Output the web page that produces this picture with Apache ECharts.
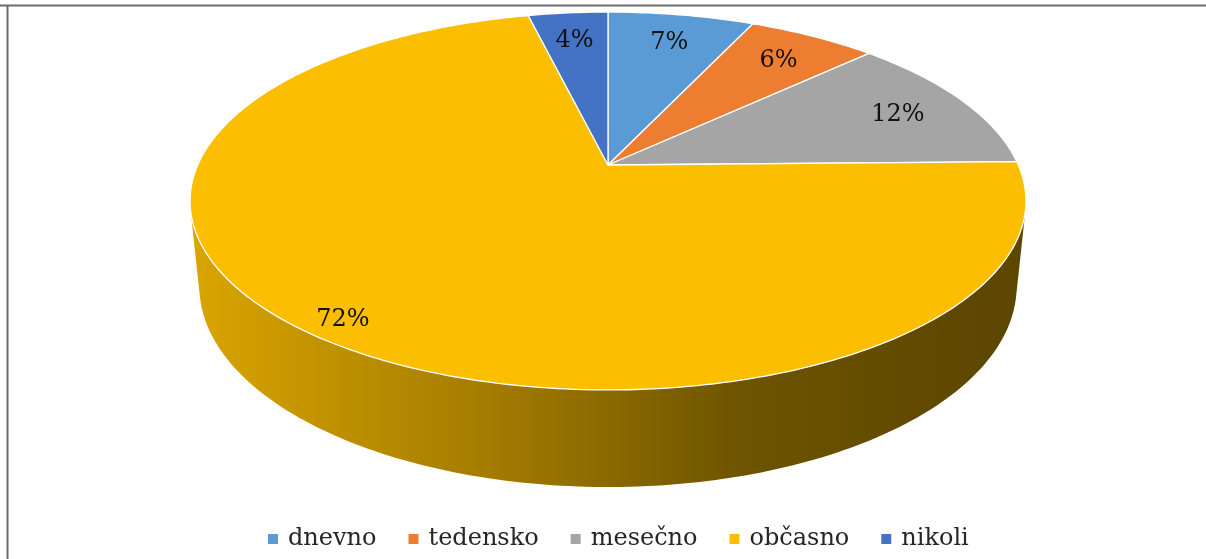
<!DOCTYPE html>
<html><head><meta charset="utf-8">
<script src="https://cdn.jsdelivr.net/npm/echarts@6/dist/echarts.min.js"></script>
<style>html,body{margin:0;padding:0;background:#fff}#c{width:1206px;height:559px}</style>
</head><body><div id="c"></div>
<script>
const categories = ['dnevno', 'tedensko', 'mesečno', 'občasno', 'nikoli'];
const values = [6.8, 6.0, 11.9, 71.6, 3.7];
const colors = ['#5B9BD5', '#ED7D31', '#A5A5A5', '#FBBE00', '#4472C4'];

const total = values.reduce((a, b) => a + b, 0);
const cum = []; let acc = 0; values.forEach(v => { cum.push(acc); acc += v; });

// perspective projection of a tilted disc
const CX = 608, CY = 165, SINA = 0.4438, COSA = 0.8961, D = 4.704, F = 1930, H = 0.233;
function proj(th, r, Y) {
  const X = r * Math.sin(th), Z = r * Math.cos(th);
  const depth = D + Z * COSA - Y * SINA;
  const vert = Z * SINA + Y * COSA;
  return [CX + F * X / depth, CY - F * vert / depth];
}
const PHI = Math.acos(1 / (D * COSA));
const VIS0 = Math.PI - PHI, VIS1 = Math.PI + PHI;

function hexToRgb(h) { const n = parseInt(h.slice(1), 16); return [(n >> 16) & 255, (n >> 8) & 255, n & 255]; }
function shade(h, f) { const c = hexToRgb(h); return 'rgb(' + c.map(x => Math.round(x * f)).join(',') + ')'; }

function arc(a0, a1, r, Y) {
  const n = Math.max(2, Math.ceil((a1 - a0) / (Math.PI / 180)) + 1);
  const pts = [];
  for (let i = 0; i < n; i++) pts.push(proj(a0 + (a1 - a0) * i / (n - 1), r, Y));
  return pts;
}

function makeRender(idx) {
  return function (params, api) {
    const v = api.value(0);
    const a0 = cum[idx] / total * 2 * Math.PI;
    const a1 = (cum[idx] + v) / total * 2 * Math.PI;
    const children = [];
    const s0 = Math.max(a0, VIS0), s1 = Math.min(a1, VIS1);
    const col = colors[idx];
    if (s1 > s0) {
      const top = arc(s0, s1, 1, 0);
      const bot = arc(s0, s1, 1, -H).reverse();
      const grad = new echarts.graphic.LinearGradient(190, 0, 1027, 0, [
        { offset: 0, color: shade(col, 0.87) },
        { offset: 0.37, color: shade(col, 0.64) },
        { offset: 0.66, color: shade(col, 0.44) },
        { offset: 0.9, color: shade(col, 0.38) },
        { offset: 1, color: shade(col, 0.37) }
      ], true);
      children.push({ type: 'polygon', shape: { points: top.concat(bot) }, style: { fill: grad, stroke: null } });
    }
    const pts = [proj(0, 0, 0)].concat(arc(a0, a1, 1, 0));
    children.push({ type: 'polygon', shape: { points: pts }, style: { fill: col, stroke: '#ffffff', lineWidth: 1.3, lineJoin: 'round' } });
    const mid = (a0 + a1) / 2;
    const lp = proj(mid, v / total > 0.5 ? 0.91 : 0.81, 0);
    children.push({ type: 'text', x: lp[0], y: lp[1] + 3, style: {
      text: Math.round(v / total * 100) + '%', align: 'center', verticalAlign: 'middle',
      font: '24px "DejaVu Serif"', fill: '#111111' } });
    return { type: 'group', children: children };
  };
}

const chart = echarts.init(document.getElementById('c'));
chart.setOption({
  animation: false,
  backgroundColor: '#ffffff',
  legend: {
    data: categories, bottom: 3, left: 263, icon: 'rect', itemWidth: 10, itemHeight: 10, itemGap: 32,
    textStyle: { fontFamily: 'DejaVu Serif', fontSize: 24, color: '#262626', padding: [0, 0, 0, 5] }
  },
  graphic: [
    { type: 'line', shape: { x1: 0, y1: 5.5, x2: 1206, y2: 5.5 }, style: { stroke: '#6b6b6b', lineWidth: 2 } },
    { type: 'line', shape: { x1: 7.5, y1: 5, x2: 7.5, y2: 559 }, style: { stroke: '#6b6b6b', lineWidth: 2 } }
  ],
  series: categories.map((name, i) => ({
    type: 'custom', name: name, coordinateSystem: 'none',
    itemStyle: { color: colors[i] },
    data: [[values[i]]],
    renderItem: makeRender(i)
  }))
});
</script></body></html>
